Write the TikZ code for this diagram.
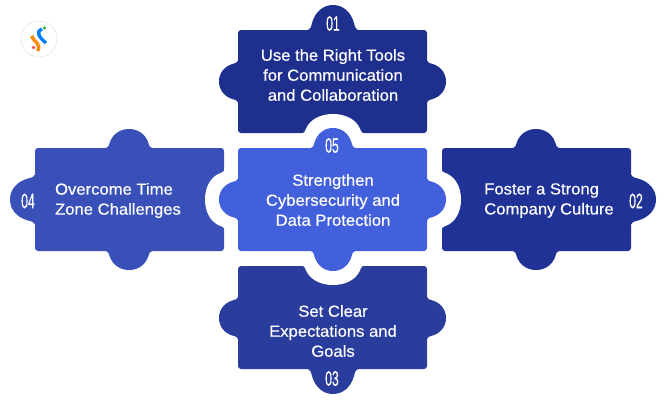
\documentclass[tikz,border=0pt]{standalone}
\usepackage{fontspec}
\setmainfont{Liberation Sans}[FakeBold=0.4,FakeStretch=1.04]
\newfontfamily\numfont{Liberation Sans}[FakeStretch=0.58,FakeBold=0.35]
\newcommand{\knobshape}[3]{% rotation, width, height (drawn at origin pointing up)
  \fill[rotate=#1] ({-#2},1) -- ({-#2},0)
    .. controls ({-0.92*#2},{-0.02*#3}) and ({-0.88*#2},{-0.1*#3}) .. ({-0.84*#2},{-0.28*#3})
    .. controls ({-0.72*#2},{-0.72*#3}) and ({-0.4*#2},{-#3}) .. (0,{-#3})
    .. controls ({0.4*#2},{-#3}) and ({0.72*#2},{-0.72*#3}) .. ({0.84*#2},{-0.28*#3})
    .. controls ({0.88*#2},{-0.1*#3}) and ({0.92*#2},{-0.02*#3}) .. ({#2},0)
    -- ({#2},1) -- cycle;}
\newcommand{\knobat}[6]{% colour, x, y, rotation, w, h
  \begin{scope}[shift={(#2,#3)},#1]\knobshape{#4}{#5}{#6}\end{scope}}
\definecolor{ctop}{HTML}{1F2F8E}
\definecolor{cright}{HTML}{203296}
\definecolor{cbottom}{HTML}{2A3C9C}
\definecolor{cleft}{HTML}{3850B8}
\definecolor{ccentre}{HTML}{425FDC}
\tikzset{
  label text/.style={text=white,align=center,font=\fontsize{16}{20}\selectfont,inner sep=0pt},
  number text/.style={text=white,font=\numfont\fontsize{21}{21}\selectfont,inner sep=0pt},
  plate/.style={rounded corners=3pt}
}
\begin{document}
\begin{tikzpicture}[x=1pt,y=-1pt]
\useasboundingbox (0,0) rectangle (666,400);
% top piece
\fill[ctop,plate] (238,30) rectangle (427,133);
\knobat{ctop}{333}{30}{0}{25}{25}
\knobat{ctop}{238}{81.5}{90}{21}{19}
\knobat{ctop}{427}{81.5}{-90}{21}{19}
\knobat{white}{333}{134}{0}{32}{20}
% bottom piece
\fill[cbottom,plate] (238,266) rectangle (427,369);
\knobat{cbottom}{333}{369}{180}{25}{25}
\knobat{cbottom}{238}{318}{90}{21}{19}
\knobat{cbottom}{427}{318}{-90}{21}{19}
\knobat{white}{333}{265}{180}{32}{20}
% left piece
\fill[cleft,plate] (35,148) rectangle (224,251);
\knobat{cleft}{129}{148}{0}{23}{19}
\knobat{cleft}{129}{251}{180}{23}{19}
\knobat{cleft}{35}{199.5}{90}{25}{25}
\knobat{white}{225}{199.5}{90}{31}{20}
% right piece
\fill[cright,plate] (442,148) rectangle (631,251);
\knobat{cright}{536}{148}{0}{23}{19}
\knobat{cright}{536}{251}{180}{23}{19}
\knobat{cright}{631}{199.5}{-90}{25}{25}
\knobat{white}{441}{199.5}{-90}{31}{20}
% centre piece
\fill[ccentre,plate] (238,148) rectangle (427,251);
\knobat{ccentre}{333}{148}{0}{22}{20}
\knobat{ccentre}{333}{251}{180}{22}{20}
\knobat{ccentre}{238}{199.5}{90}{21}{19}
\knobat{ccentre}{427}{199.5}{-90}{21}{19}
% logo
\fill[white] (39,39) circle (18);
\draw[black!8,line width=0.8pt] (39,39) circle (18);
\draw[orange!90!yellow,line width=3.4pt] (31.5,36) .. controls (33,41) and (42,44) .. (37.5,51);
\draw[blue!50!cyan,line width=3.4pt] (42,29) .. controls (35.5,32) and (39,37) .. (46,43);
\fill[green!60!black!70] (44.5,28) circle (1.8);
\fill[red!70!white] (33.5,47.5) circle (1.8);
% labels
\node[label text] (t1) at (333,75) {Use the Right Tools\\for Communication\\and Collaboration};
\node[label text] (t5) at (333,200) {Strengthen\\Cybersecurity and\\Data Protection};
\node[label text] (t3) at (333,331) {Set Clear\\Expectations and\\Goals};
\node[label text,align=left] (t4) at (118,200.5) {Overcome Time\\Zone Challenges};
\node[label text,align=left] (t2) at (549,200.5) {Foster a Strong\\Company Culture};
\node[number text] (n1) at (333,23.5) {01};
\node[number text] (n5) at (332,145.5) {05};
\node[number text] (n3) at (332,378.5) {03};
\node[number text] (n4) at (28,201) {04};
\node[number text] (n2) at (636,201) {02};
\end{tikzpicture}
\end{document}
